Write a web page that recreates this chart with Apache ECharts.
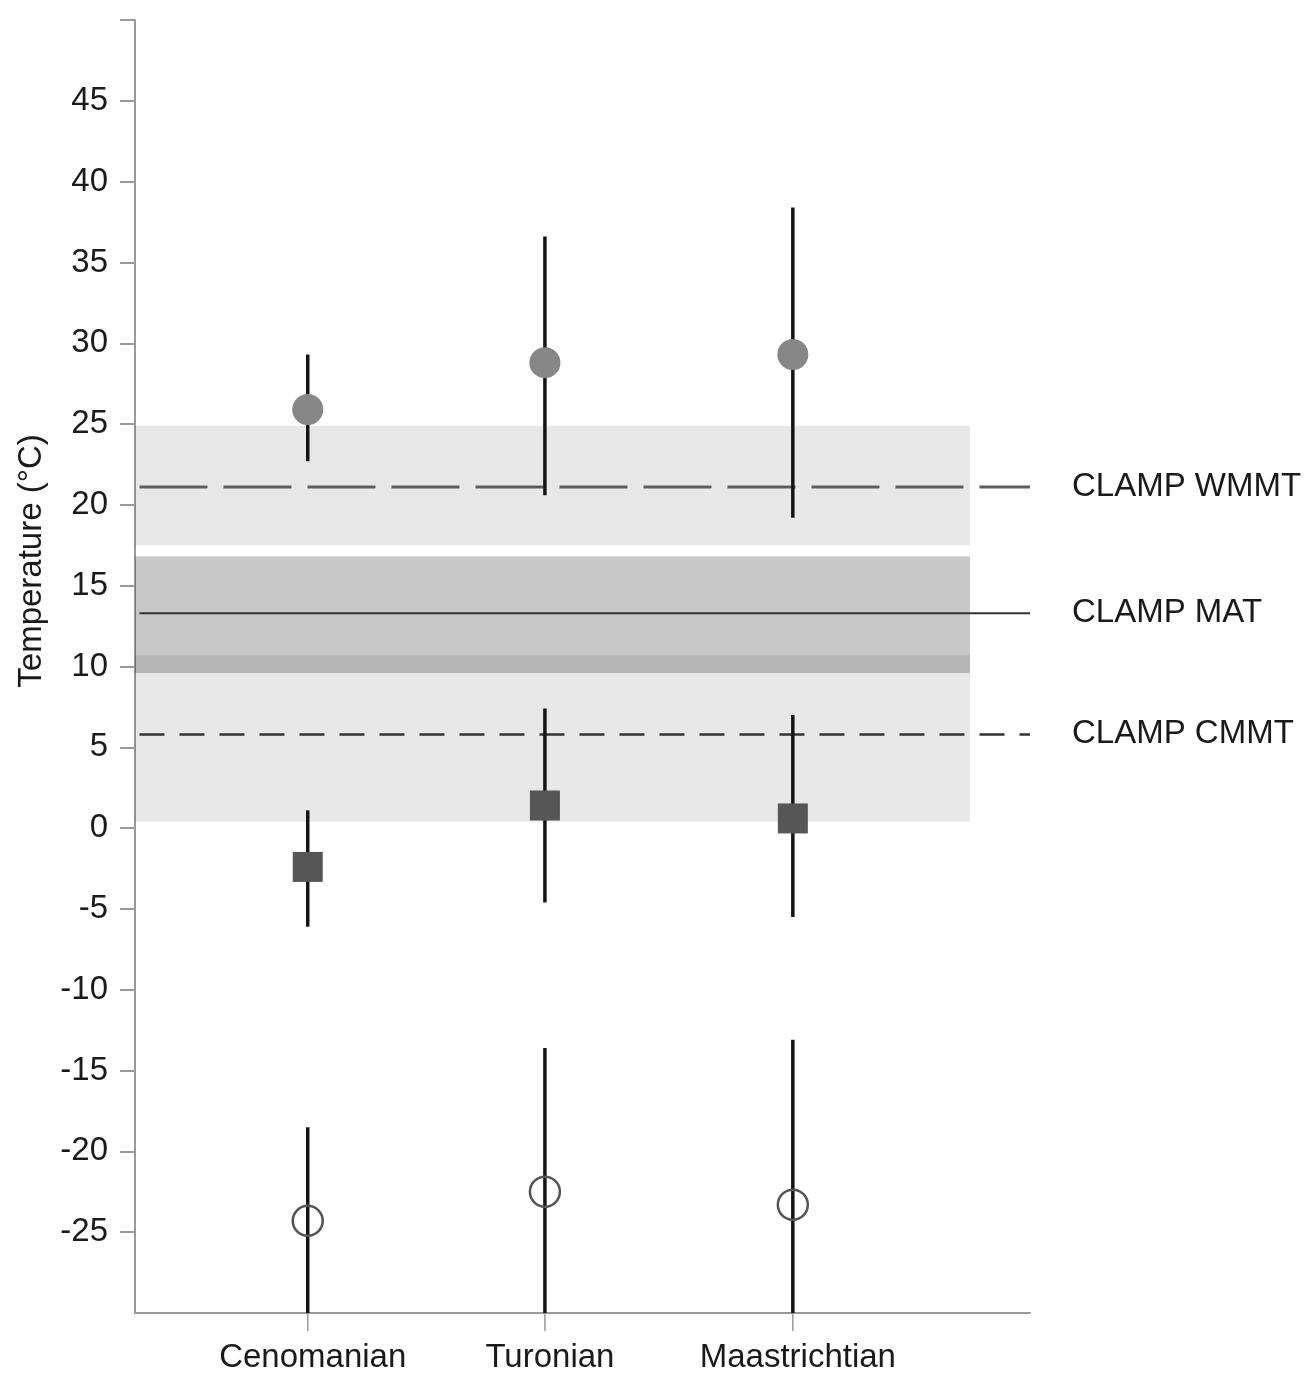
<!DOCTYPE html>
<html>
<head>
<meta charset="utf-8">
<script src="https://cdn.jsdelivr.net/npm/echarts@6/dist/echarts.min.js"></script>
<style>html,body{margin:0;padding:0;background:#fff}#c{width:1308px;height:1385px}</style>
</head>
<body>
<div id="c"></div>
<script>
// ---- data ----
const categories = ['Cenomanian', 'Turonian', 'Maastrichtian'];
const catX = [19.3, 45.8, 73.5];           // category positions on the x value scale
const wmmtMean = [25.9, 28.8, 29.3];
const wmmtLow  = [22.7, 20.6, 19.2];
const wmmtHigh = [29.3, 36.6, 38.4];
const cmmtMean = [-2.4, 1.4, 0.6];
const cmmtLow  = [-6.1, -4.6, -5.5];
const cmmtHigh = [1.1, 7.4, 7.0];
const minMean  = [-24.3, -22.5, -23.3];
const minLow   = [-30, -30, -30];
const minHigh  = [-18.5, -13.6, -13.1];
const clampWMMT = 21.1, clampMAT = 13.3, clampCMMT = 5.8;
const wmmtBand = [17.5, 24.9];
const matBand  = [9.6, 16.8];
const cmmtBand = [0.4, 10.7];
const bandXEnd = 93.3;
const yMin = -30, yMax = 50, yStep = 5;
const yTickValues = [-25, -20, -15, -10, -5, 0, 5, 10, 15, 20, 25, 30, 35, 40, 45, 50];

const FONT = '"Liberation Sans", Arial, Helvetica, sans-serif';

function bars(lo, hi) { return catX.map((x, i) => [x, lo[i], hi[i]]); }
function pts(v) { return catX.map((x, i) => [x, v[i]]); }

const errRender = function (params, api) {
  const x = api.value(0);
  const a = api.coord([x, api.value(1)]);
  const b = api.coord([x, api.value(2)]);
  return { type: 'line', shape: { x1: a[0], y1: a[1], x2: b[0], y2: b[1] },
    style: { stroke: '#141414', lineWidth: 3.5 } };
};

const chart = echarts.init(document.getElementById('c'), null, { renderer: 'canvas' });
chart.setOption({
  animation: false,
  backgroundColor: '#fff',
  grid: { left: 135, right: 278, top: 20, bottom: 72 },
  xAxis: {
    type: 'value', min: 0, max: 100,
    axisLine: { show: true, onZero: false, lineStyle: { color: '#9a9a9a', width: 2 } },
    axisTick: { show: false }, axisLabel: { show: false }, splitLine: { show: false }
  },
  yAxis: {
    type: 'value', min: yMin, max: yMax, interval: yStep,
    axisLine: { show: true, lineStyle: { color: '#9a9a9a', width: 2 } },
    axisTick: { show: true, length: 15, customValues: yTickValues, lineStyle: { color: '#9a9a9a', width: 2 } },
    axisLabel: { fontSize: 33, fontFamily: FONT, color: '#1a1a1a', margin: 27,
      formatter: v => (v === yMin || v === yMax) ? '' : String(v) },
    splitLine: { show: false }
  },
  graphic: [{
    type: 'text', x: 32, y: 561, rotation: Math.PI / 2,
    style: { text: 'Temperature (°C)', font: '33px ' + FONT, fill: '#1a1a1a',
      align: 'center', verticalAlign: 'middle' }
  }],
  series: [
    { type: 'line', name: 'bands', data: [], z: 1, silent: true,
      markArea: { silent: true, data: [
        [{ coord: [0, wmmtBand[0]], itemStyle: { color: 'rgba(0,0,0,0.09)' } }, { coord: [bandXEnd, wmmtBand[1]] }],
        [{ coord: [0, cmmtBand[0]], itemStyle: { color: 'rgba(0,0,0,0.09)' } }, { coord: [bandXEnd, cmmtBand[1]] }],
        [{ coord: [0, matBand[0]], itemStyle: { color: 'rgba(0,0,0,0.216)' } }, { coord: [bandXEnd, matBand[1]] }]
      ] } },
    { type: 'line', name: 'CLAMP WMMT', data: [[0.5, clampWMMT], [100, clampWMMT]], symbol: 'none', z: 2,
      lineStyle: { color: '#5e5e5e', width: 3, type: [68, 16] },
      endLabel: { show: true, formatter: '{a}', distance: 42, fontSize: 33, fontFamily: FONT, color: '#1a1a1a' } },
    { type: 'line', name: 'CLAMP MAT', data: [[0.5, clampMAT], [100, clampMAT]], symbol: 'none', z: 2,
      lineStyle: { color: '#333', width: 2 },
      endLabel: { show: true, formatter: '{a}', distance: 42, fontSize: 33, fontFamily: FONT, color: '#1a1a1a' } },
    { type: 'line', name: 'CLAMP CMMT', data: [[0.5, clampCMMT], [100, clampCMMT]], symbol: 'none', z: 2,
      lineStyle: { color: '#333', width: 2.5, type: [25, 15] },
      endLabel: { show: true, formatter: '{a}', distance: 42, fontSize: 33, fontFamily: FONT, color: '#1a1a1a' } },
    { type: 'custom', name: 'wmmtErr', renderItem: errRender, data: bars(wmmtLow, wmmtHigh), encode: { x: 0, y: [1, 2] }, z: 3 },
    { type: 'custom', name: 'cmmtErr', renderItem: errRender, data: bars(cmmtLow, cmmtHigh), encode: { x: 0, y: [1, 2] }, z: 3 },
    { type: 'custom', name: 'minErr', renderItem: errRender, data: bars(minLow, minHigh), encode: { x: 0, y: [1, 2] }, z: 3 },
    { type: 'scatter', name: 'WMMT', data: pts(wmmtMean), symbol: 'circle', symbolSize: 31, z: 4,
      itemStyle: { color: '#878787', opacity: 1 } },
    { type: 'scatter', name: 'CMMT', data: pts(cmmtMean), symbol: 'rect', symbolSize: 30, z: 4,
      itemStyle: { color: '#565656', opacity: 1 } },
    { type: 'scatter', name: 'Min', data: pts(minMean), symbol: 'circle', symbolSize: 30, z: 4,
      itemStyle: { color: 'rgba(0,0,0,0)', borderColor: '#555', borderWidth: 2.5, opacity: 1 } },
    { type: 'custom', name: 'xcats', clip: false, z: 5, silent: true,
      data: catX.map((x, i) => [x, yMin, i]), encode: { x: 0, y: 1 },
      renderItem: function (params, api) {
        const p = api.coord([api.value(0), yMin]);
        const i = api.value(2);
        return { type: 'group', children: [
          { type: 'line', shape: { x1: p[0], y1: p[1], x2: p[0], y2: p[1] + 18 },
            style: { stroke: '#9a9a9a', lineWidth: 1.5 } },
          { type: 'text', x: p[0] + 5, y: p[1] + 45,
            style: { text: categories[i], font: '33px ' + FONT, fill: '#1a1a1a', align: 'center', verticalAlign: 'middle' } }
        ] };
      } }
  ]
});
</script>
</body>
</html>
